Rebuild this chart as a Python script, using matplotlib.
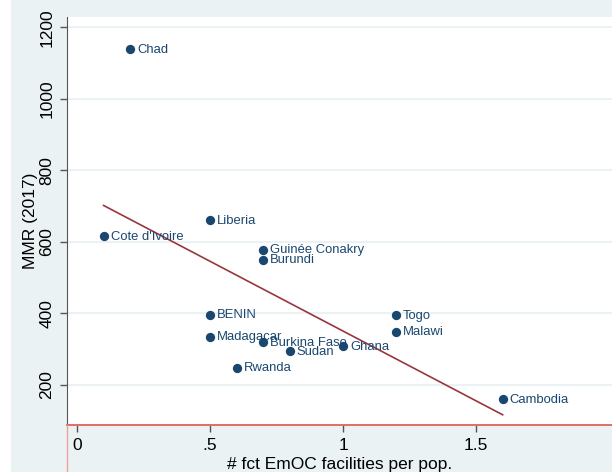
import numpy as np
import matplotlib.pyplot as plt

plt.rcParams['font.family'] = ['Liberation Sans', 'DejaVu Sans']

# data
pays = ['Chad', "Cote d'Ivoire", 'Liberia', 'Guinée Conakry', 'Burundi', 'BENIN',
        'Madagacar', 'Burkina Faso', 'Sudan', 'Ghana', 'Rwanda', 'Togo', 'Malawi', 'Cambodia']
emoc = [0.2, 0.1, 0.5, 0.7, 0.7, 0.5, 0.5, 0.7, 0.8, 1.0, 0.6, 1.2, 1.2, 1.6]
mmr = [1140, 617, 661, 578, 550, 397, 335, 320, 295, 308, 248, 396, 349, 160]

xticks = [0, 0.5, 1, 1.5]
xtick_labels = ['0', '.5', '1', '1.5']
yticks = [200, 400, 600, 800, 1000, 1200]

FOND = '#eaf2f3'
BLEU = '#1a476f'
ROUGE = '#98363d'

fig = plt.figure(figsize=(6.12, 4.72), dpi=100)
fig.patch.set_facecolor('white')
# fond gris de la zone graphique (l'image est rognée à gauche)
fig.add_artist(plt.Rectangle((11 / 612, 0), 1, 1, transform=fig.transFigure,
                             facecolor=FOND, edgecolor='none', zorder=0))

ax = fig.add_axes([67 / 612, 47 / 472, 1 - 67 / 612, 408 / 472])
ax.set_facecolor('white')

ax.set_xlim(-0.0376, 2.011)
ax.set_ylim(88, 1229)

# droite de régression
x = np.array(emoc)
y = np.array(mmr)
a, b = np.polyfit(x, y, 1)
xx = np.array([x.min(), x.max()])
ax.plot(xx, a * xx + b, color=ROUGE, lw=1.2, zorder=2)

ax.scatter(emoc, mmr, s=45, color=BLEU, zorder=3, linewidths=0)
for nom, xi, yi in zip(pays, emoc, mmr):
    ax.annotate(nom, (xi, yi), xytext=(5, -0.5), textcoords='offset points',
                ha='left', va='center', fontsize=9.4, color=BLEU, zorder=4)

ax.set_yticks(yticks)
ax.set_yticklabels([str(v) for v in yticks], rotation=90, va='center', fontsize=12.5)
ax.set_xticks(xticks)
ax.set_xticklabels(xtick_labels, fontsize=12.5)
ax.grid(axis='y', color=FOND, lw=1.5)
ax.set_axisbelow(True)

ax.tick_params(axis='both', direction='out', length=5, color='#555555', width=1)
ax.tick_params(axis='y', pad=4)
ax.tick_params(axis='x', pad=4)

ax.spines['top'].set_visible(False)
ax.spines['right'].set_visible(False)
ax.spines['left'].set_color('#555555')
ax.spines['bottom'].set_color('#e06060')
ax.spines['bottom'].set_linewidth(1.3)

ax.set_ylabel('MMR (2017)', fontsize=12.5, labelpad=1)
ax.set_xlabel('# fct EmOC facilities per pop.', fontsize=12.5, labelpad=3)

# trait rose vertical sous l'axe
fig.add_artist(plt.Line2D([67 / 612, 67 / 612], [0, 47 / 472], transform=fig.transFigure,
                          color='#f0a0a0', lw=1))

fig.savefig('out.png', dpi=100, facecolor=fig.get_facecolor())
